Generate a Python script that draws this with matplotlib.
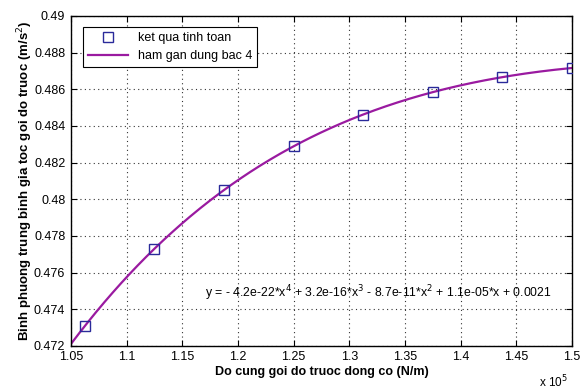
import numpy as np
import matplotlib.pyplot as plt
import matplotlib.ticker as mt

plt.rcParams['font.family'] = ['Liberation Sans', 'DejaVu Sans']

# stiffness of the front engine mount (N/m) and computed RMS acceleration (m/s^2)
do_cung = np.array([1.0625, 1.125, 1.1875, 1.25, 1.3125, 1.375, 1.4375, 1.5]) * 1e5
gia_toc = np.array([0.47309, 0.47729, 0.48051, 0.48291, 0.48460, 0.48585, 0.48667, 0.48716])
x_ticks = np.arange(1.05, 1.5001, 0.05) * 1e5
y_ticks = np.arange(0.472, 0.4901, 0.002)
eq_text = 'y = - 4.2e-22*x$^4$ + 3.2e-16*x$^3$ - 8.7e-11*x$^2$ + 1.1e-05*x + 0.0021'

# 4th order fit of the computed points
fit = np.polynomial.Polynomial.fit(do_cung, gia_toc, 4)
xf = np.linspace(1.05e5, 1.5e5, 300)

fig = plt.figure(figsize=(5.86, 3.9), dpi=100)
ax = fig.add_axes([0.121, 0.113, 0.855, 0.846])

ax.plot(do_cung, gia_toc, 's', mfc='none', mec='#2a2a9a', ms=6.5, mew=1.0,
        label='ket qua tinh toan', zorder=3)
ax.plot(xf, fit(xf), '-', color='#9a1aa0', lw=1.6, label='ham gan dung bac 4')

ax.set_xlim(1.05e5, 1.5e5)
ax.set_ylim(0.472, 0.49)
ax.set_xticks(x_ticks)
ax.set_yticks(y_ticks)
ax.xaxis.set_major_formatter(mt.FuncFormatter(lambda v, p: '%g' % round(v / 1e5, 3)))
ax.yaxis.set_major_formatter(mt.FuncFormatter(lambda v, p: '%g' % round(v, 4)))
ax.tick_params(direction='in', top=True, right=True, labelsize=9, length=4, pad=4)
ax.grid(True, linestyle=(0, (1, 3)), color='#333333', lw=0.8)
for s in ax.spines.values():
    s.set_linewidth(1.0)

ax.set_xlabel('Do cung goi do truoc dong co (N/m)', fontsize=9, fontweight='bold', labelpad=2)
ax.set_ylabel('Binh phuong trung binh gia toc goi do truoc (m/s$^2$)', fontsize=9.5,
              fontweight='bold')
ax.yaxis.set_label_coords(-0.072, 0.5)
fig.text(568 / 586, 1 - 382 / 390, 'x 10$^5$', fontsize=8.5, ha='right', va='center')

ax.text(0.268, 0.16, eq_text, transform=ax.transAxes, fontsize=8.8, va='center')

leg = ax.legend(loc='upper left', bbox_to_anchor=(0.024, 0.967), borderaxespad=0,
                fontsize=9, fancybox=False, edgecolor='black', framealpha=1,
                handlelength=3.2, borderpad=0.4, labelspacing=0.5)
leg.get_frame().set_linewidth(0.8)

fig.savefig('out.png', dpi=100)
